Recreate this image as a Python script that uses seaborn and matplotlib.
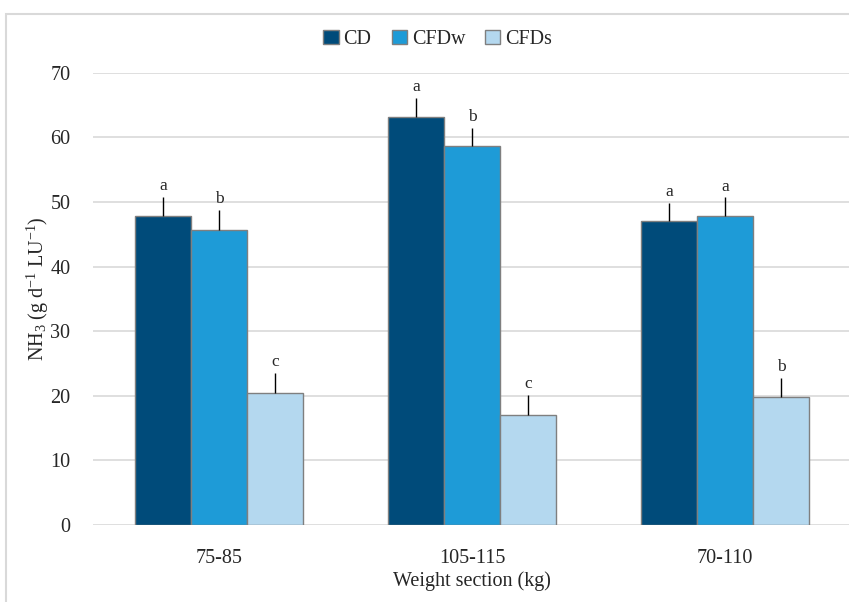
import pandas as pd
import matplotlib.pyplot as plt
import seaborn as sns
from matplotlib.patches import Rectangle

# values
sections = ['75-85', '105-115', '70-110']
treatments = ['CD', 'CFDw', 'CFDs']
cd = [47.9, 63.2, 47.0]
cfdw = [45.7, 58.7, 47.9]
cfds = [20.4, 17.0, 19.8]
cd_err = [2.9, 2.9, 2.9]
cfdw_err = [3.1, 2.8, 2.8]
cfds_err = [3.1, 3.1, 3.0]
cd_letters = ['a', 'a', 'a']
cfdw_letters = ['b', 'b', 'a']
cfds_letters = ['c', 'c', 'b']

colors = ['#004B7A', '#1E9BD7', '#B4D8EF']

df = pd.DataFrame({
    'section': sections * 3,
    'treatment': [t for t in treatments for _ in sections],
    'nh3': cd + cfdw + cfds,
})
errs = [cd_err, cfdw_err, cfds_err]
letters = [cd_letters, cfdw_letters, cfds_letters]

sns.set_style('white')
plt.rcParams['font.family'] = ['Liberation Serif', 'DejaVu Serif']
plt.rcParams['mathtext.fontset'] = 'custom'
plt.rcParams['mathtext.rm'] = 'Liberation Serif'
plt.rcParams['mathtext.it'] = 'Liberation Serif:italic'

fig = plt.figure(figsize=(8.49, 6.02), dpi=100)
ax = fig.add_axes([0.109, 0.128, 0.894, 0.751])

sns.barplot(data=df, x='section', y='nh3', hue='treatment', order=sections,
            hue_order=treatments, palette=colors, width=0.664, saturation=1,
            edgecolor='#7f7f7f', linewidth=1.0, errorbar=None, ax=ax)

# error bars (upper half only) and significance letters
for cont, err, lab in zip(ax.containers, errs, letters):
    xs = [b.get_x() + b.get_width() / 2 for b in cont]
    hs = [b.get_height() for b in cont]
    ax.errorbar(xs, hs, yerr=[[0] * len(err), err], fmt='none',
                ecolor='black', elinewidth=1.0, capsize=0, zorder=5)
    for x, h, e, l in zip(xs, hs, err, lab):
        ax.annotate(l, (x, h + e), xytext=(0, 2), textcoords='offset points',
                    ha='center', va='bottom', fontsize=12.5)

ax.set_xlim(-0.5, 2.5)
ax.set_ylim(0, 70)
ax.set_yticks(range(0, 71, 10))
ax.yaxis.grid(True, color='#d9d9d9', linewidth=1.2)
ax.set_axisbelow(True)
for s in ax.spines.values():
    s.set_visible(False)
ax.tick_params(axis='both', length=0, labelsize=14.5)
ax.tick_params(axis='x', pad=17)
ax.tick_params(axis='y', pad=16)
ax.set_xlabel('Weight section (kg)', fontsize=14.5, labelpad=3)
ax.set_ylabel('NH$_\\mathregular{3}$ (g d$^\\mathregular{-1}$ LU$^\\mathregular{-1}$)', fontsize=14.5)
ax.yaxis.set_label_coords(-0.055, 0.522)

leg = ax.legend(loc='center', bbox_to_anchor=(0.455, 1.074), ncol=3, frameon=False,
                fontsize=14.5, handlelength=0.75, handleheight=0.75,
                handletextpad=0.25, columnspacing=1.0)

# light frame round the chart area
fig.patches.append(Rectangle((0.007, -0.05), 1.1, 0.027 + 1.0, transform=fig.transFigure,
                             fill=False, edgecolor='#d9d9d9', linewidth=1.5))

fig.savefig('out.png', dpi=100)
